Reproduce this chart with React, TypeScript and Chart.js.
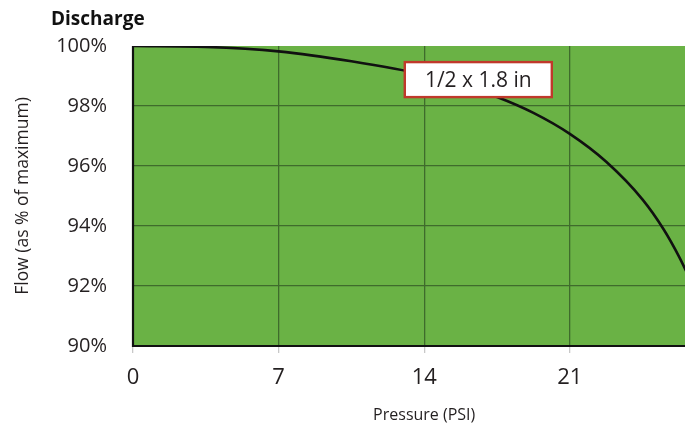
import React, { useEffect, useRef } from "react";
import { Chart, registerables } from "chart.js";

Chart.register(...registerables);

const pressure = [0, 3.5, 7, 10.5, 14, 15.75, 17.5, 19.25, 21, 22.75, 24.5, 25.5, 26.25, 27];
const flow = [100, 99.97, 99.82, 99.49, 99.04, 98.7, 98.3, 97.77, 97.07, 96.14, 94.88, 93.9, 92.98, 91.9];
const xTicks = [0, 7, 14, 21, 28];
const yTicks = [90, 92, 94, 96, 98, 100];
const seriesLabel = "1/2 x 1.8 in";
const chartTitle = "Discharge";
const xTitle = "Pressure (PSI)";
const yTitle = "Flow (as % of maximum)";

const FONT = "'Open Sans', sans-serif";

const bgPlugin = {
  id: "plotBg",
  beforeDraw(chart: any) {
    const { ctx, chartArea: a } = chart;
    ctx.save();
    ctx.fillStyle = "#6ab245";
    ctx.fillRect(a.left, a.top, a.right - a.left, a.bottom - a.top);
    ctx.restore();
  },
};

const overlayPlugin = {
  id: "overlay",
  afterDraw(chart: any) {
    const { ctx, chartArea: a, scales } = chart;
    ctx.save();
    ctx.strokeStyle = "#111";
    ctx.lineWidth = 2.2;
    ctx.beginPath();
    ctx.moveTo(a.left, a.top);
    ctx.lineTo(a.left, a.bottom);
    ctx.lineTo(a.right, a.bottom);
    ctx.stroke();
    ctx.fillStyle = "#111";
    ctx.font = `bold 19px ${FONT}`;
    ctx.textAlign = "left";
    ctx.textBaseline = "alphabetic";
    ctx.fillText(chartTitle, 51, 25);
    const cx = scales.x.getPixelForValue(16.6);
    const cy = scales.y.getPixelForValue(98.88);
    const w = 147;
    const h = 35;
    ctx.fillStyle = "#ffffff";
    ctx.fillRect(cx - w / 2, cy - h / 2, w, h);
    ctx.strokeStyle = "#c0392b";
    ctx.lineWidth = 2.4;
    ctx.strokeRect(cx - w / 2, cy - h / 2, w, h);
    ctx.fillStyle = "#231f20";
    ctx.font = `21px ${FONT}`;
    ctx.textAlign = "center";
    ctx.textBaseline = "middle";
    ctx.fillText(seriesLabel, cx, cy + 1);
    ctx.restore();
  },
};

export default function App() {
  const ref = useRef<HTMLCanvasElement>(null);
  useEffect(() => {
    document.body.style.margin = "0";
    const chart = new Chart(ref.current!, {
      type: "line",
      data: {
        datasets: [
          {
            label: seriesLabel,
            data: pressure.map((p, i) => ({ x: p, y: flow[i] })),
            borderColor: "#111",
            borderWidth: 2.6,
            pointRadius: 0,
            cubicInterpolationMode: "monotone",
            fill: false,
          },
        ],
      },
      options: {
        animation: false,
        responsive: false,
        layout: { padding: { top: 46, right: 22, left: 0, bottom: 0 } },
        plugins: { legend: { display: false }, tooltip: { enabled: false } },
        scales: {
          x: {
            type: "linear",
            min: 0,
            max: 28,
            afterBuildTicks: (s: any) => {
              s.ticks = xTicks.map((v) => ({ value: v }));
            },
            afterFit: (s: any) => {
              s.height = 81;
            },
            border: { display: false },
            grid: {
              color: (c: any) => (c.tick && c.tick.value === 0 ? "rgba(0,0,0,0)" : "#3f6b2c"),
              lineWidth: 1.3,
              tickColor: "#c8c8c8",
              tickLength: 7,
            },
            ticks: {
              color: "#231f20",
              font: { family: FONT, size: 22 },
              padding: 12,
            },
            title: {
              display: true,
              text: xTitle,
              color: "#231f20",
              font: { family: FONT, size: 16 },
              padding: { top: 0, bottom: 2 },
            },
          },
          y: {
            type: "linear",
            min: 90,
            max: 100,
            afterBuildTicks: (s: any) => {
              s.ticks = yTicks.map((v) => ({ value: v }));
            },
            afterFit: (s: any) => {
              s.width = 133;
            },
            border: { display: false },
            grid: {
              color: (c: any) =>
                c.tick && (c.tick.value === 90 || c.tick.value === 100) ? "rgba(0,0,0,0)" : "#3f6b2c",
              lineWidth: 1.3,
              drawTicks: false,
            },
            ticks: {
              color: "#231f20",
              font: { family: FONT, size: 20 },
              padding: 26,
              callback: (v: any) => `${v}%`,
            },
            title: {
              display: true,
              text: yTitle,
              color: "#231f20",
              font: { family: FONT, size: 17.5 },
              padding: { top: 13, bottom: 0 },
            },
          },
        },
      },
      plugins: [bgPlugin, overlayPlugin],
    } as any);
    return () => chart.destroy();
  }, []);
  return (
    <div style={{ position: "absolute", left: 0, top: 0, width: 685, height: 427, overflow: "hidden", background: "#fff" }}>
      <canvas ref={ref} width={740} height={427} style={{ width: 740, height: 427, display: "block" }} />
    </div>
  );
}
